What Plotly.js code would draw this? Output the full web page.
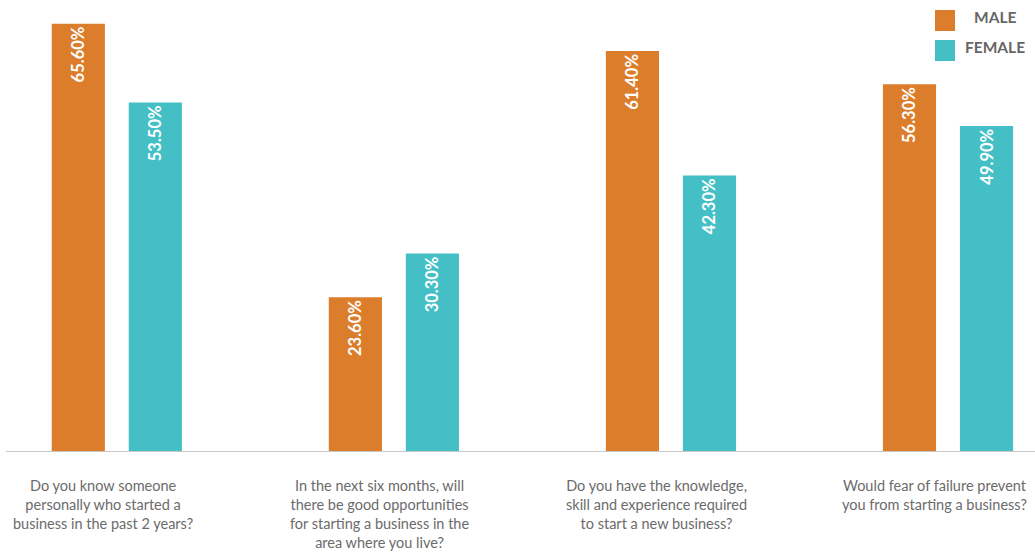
<!DOCTYPE html>
<html>
<head>
<meta charset="utf-8">
<script src="https://cdn.plot.ly/plotly-3.0.1.min.js"></script>
<style>html,body{margin:0;padding:0;background:#fff;}#chart{width:1035px;height:554px;}</style>
</head>
<body>
<div id="chart"></div>
<script>
var categories = [
  "Do you know someone<br>personally who started a<br>business in the past 2 years?",
  "In the next six months, will<br>there be good opportunities<br>for starting a business in the<br>area where you live?",
  "Do you have the knowledge,<br>skill and experience required<br>to start a new business?",
  "Would fear of failure prevent<br>you from starting a business?"
];
var maleValues = [65.6, 23.6, 61.4, 56.3];
var femaleValues = [53.5, 30.3, 42.3, 49.9];
var seriesNames = ["MALE", "FEMALE"];
var seriesColors = ["#DC7D2B", "#44BFC6"];

var xIdx = categories.map(function(_, i){ return i; });
function fmt(v){ return v.toFixed(2) + "%"; }

var traces = [maleValues, femaleValues].map(function(vals, k){
  return {
    type: "bar",
    name: seriesNames[k],
    x: xIdx,
    y: vals,
    marker: {color: seriesColors[k]},
    text: vals.map(fmt),
    textposition: "inside",
    insidetextanchor: "end",
    textangle: -90,
    constraintext: "none",
    textfont: {family: "Lato, 'Open Sans', sans-serif", size: 16.5, color: "#ffffff", weight: "bold"},
    hoverinfo: "none",
    showlegend: false
  };
});

var annotations = categories.map(function(c, i){
  return {
    x: i, y: 0, xref: "x", yref: "y",
    text: c, showarrow: false,
    xanchor: "center", yanchor: "top",
    xshift: -14, yshift: -24,
    align: "center",
    font: {family: "Lato, 'Open Sans', sans-serif", size: 14.5, color: "#6b6b6b"}
  };
});

var shapes = [];
seriesNames.forEach(function(n, k){
  shapes.push({type: "rect", xref: "paper", yref: "paper",
    x0: (935-6)/1029, x1: (955-6)/1029,
    y0: (451 - (10 + 30*k + 21)) / 441, y1: (451 - (10 + 30*k)) / 441,
    fillcolor: seriesColors[k], line: {width: 0}});
  annotations.push({xref: "paper", yref: "paper",
    x: (995-6)/1029, y: (451 - (17 + 30*k)) / 441,
    xanchor: "center", yanchor: "middle", showarrow: false,
    text: "<b>" + n + "</b>",
    font: {family: "Lato, 'Open Sans', sans-serif", size: 15.5, color: "#666666"}});
});

var layout = {
  width: 1035, height: 554,
  margin: {l: 6, r: 0, t: 10, b: 103},
  paper_bgcolor: "#ffffff", plot_bgcolor: "#ffffff",
  barmode: "group",
  bargap: 0.444,
  bargroupgap: 0.31,
  xaxis: {range: [-0.40, 3.314], showticklabels: false, showgrid: false, zeroline: false,
          showline: true, linecolor: "#c8c8c8", linewidth: 1, ticks: ""},
  yaxis: {range: [0, 67.7], visible: false, showgrid: false, zeroline: false},
  annotations: annotations,
  shapes: shapes,
  showlegend: false
};

Plotly.newPlot("chart", traces, layout, {displayModeBar: false, staticPlot: true});
</script>
</body>
</html>
